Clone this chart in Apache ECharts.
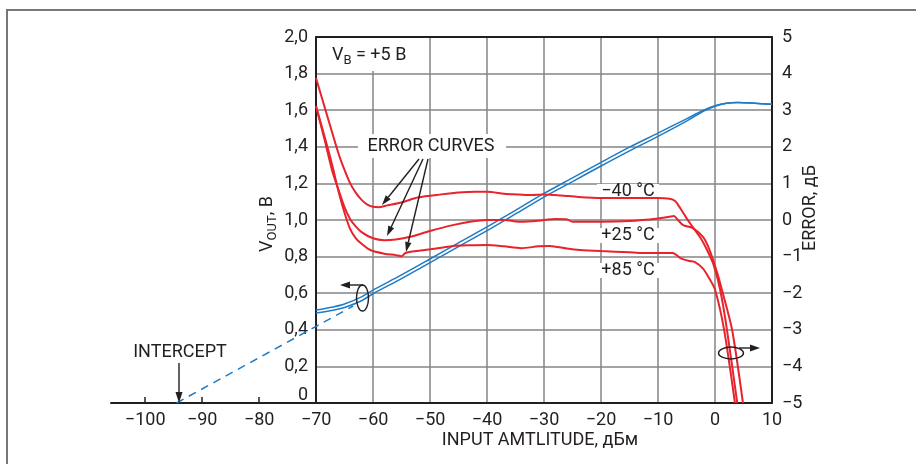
<!DOCTYPE html>
<html><head><meta charset="utf-8">
<script src="https://cdn.jsdelivr.net/npm/echarts@6/dist/echarts.min.js"></script>
<style>html,body{margin:0;padding:0;background:#fff}#c{width:916px;height:464px}</style>
</head><body><div id="c"></div>
<script>
// ---- data ----
const xTickLabels = [-100,-90,-80,-70,-60,-50,-40,-30,-20,-10,0,10];
const xOuterTicks = [-100,-90,-80];

const blueX     = [-70,-67,-65,-62,-60,-55,-50,-45,-40,-35,-30,-25,-20,-15,-10,-5,-2,0,2,4,7,10];
const vOutUpper = [0.508,0.525,0.541,0.58,0.617,0.70,0.787,0.875,0.962,1.053,1.145,1.23,1.315,1.398,1.475,1.553,1.60,1.625,1.638,1.642,1.638,1.632];
const vOutLower = [0.492,0.507,0.522,0.559,0.597,0.68,0.767,0.855,0.942,1.033,1.125,1.21,1.295,1.378,1.457,1.54,1.595,1.622,1.638,1.642,1.638,1.632];

const interceptX = [-94.5,-63.5];
const interceptV = [0,0.53];

const errM40X = [-70,-68,-66,-65,-64,-63,-62,-61,-60,-59,-57.5,-55,-52,-48,-45,-42,-40,-37,-35,-32.5,-30,-27,-24,-20,-15,-10,-8,-7,-6,-5,-4,-2.5,-1.4,-0.3,0.9,2.1,3.9];
const errM40  = [3.88,2.83,1.79,1.37,1.0,0.74,0.55,0.42,0.36,0.35,0.4,0.48,0.62,0.7,0.75,0.77,0.77,0.72,0.7,0.68,0.7,0.67,0.63,0.6,0.6,0.6,0.58,0.52,0.3,0.05,-0.17,-0.5,-0.82,-1.2,-1.9,-3.0,-5];

const errP25X = [-70,-68.5,-67.2,-66,-65,-64,-63,-62,-60,-58,-56,-53.5,-50,-46,-43,-40,-37,-34,-31,-28,-26,-25,-20,-15,-10,-8,-7.2,-6.5,-5.6,-3.9,-2.1,-1,0.4,1.2,3.0,4.9];
const errP25  = [3.11,2.2,1.37,0.8,0.35,0.02,-0.18,-0.33,-0.5,-0.55,-0.53,-0.46,-0.3,-0.14,-0.05,0,0,-0.05,-0.02,0.03,0.02,-0.05,-0.05,-0.03,0.04,0.09,0.11,0.0,-0.14,-0.22,-0.46,-0.8,-1.45,-1.9,-3.0,-5];

const errP85X = [-70,-68,-67,-66,-65,-64,-63,-62,-60.5,-58,-56,-55,-54.3,-52,-48,-46,-43,-40,-37,-34,-31,-29,-26,-23.7,-20,-15,-13,-10,-7.4,-6.1,-4.5,-3.5,-2.1,-1,0,1.6,3.5];
const errP85  = [3.11,2.0,1.4,0.75,0.2,-0.25,-0.5,-0.65,-0.82,-0.92,-0.96,-0.99,-0.9,-0.84,-0.76,-0.71,-0.69,-0.68,-0.72,-0.77,-0.72,-0.71,-0.78,-0.82,-0.85,-0.88,-0.9,-0.9,-0.9,-1.04,-1.12,-1.15,-1.33,-1.6,-1.9,-3.0,-5];

// ---- styles ----
const FONT = 'Roboto, "Liberation Sans", sans-serif';
const FS = 18;
const INK = '#231f20';
const GRID = '#858585';
const RED = '#e8232b';
const BLUE = '#1f7bc4';
const MINUS = '\u2212';
const fmtSigned = v => v < 0 ? MINUS + (-v) : String(v);

const chart = echarts.init(document.getElementById('c'), null, {renderer:'canvas'});
const zip = (xs, ys) => xs.map((x,i)=>[x, ys[i]]);

function arrow(x1,y1,x2,y2,head,w){
  head = head||10; w = w||3.2;
  const a = Math.atan2(y2-y1,x2-x1);
  const bx = x2-head*Math.cos(a), by = y2-head*Math.sin(a);
  const nx = -Math.sin(a)*w, ny = Math.cos(a)*w;
  return [
    {type:'line', z:20, shape:{x1:x1,y1:y1,x2:bx,y2:by}, style:{stroke:INK,lineWidth:1.4}},
    {type:'polygon', z:20, shape:{points:[[x2,y2],[bx+nx,by+ny],[bx-nx,by-ny]]}, style:{fill:INK}}
  ];
}
function label(x,y,text,opt){
  opt = opt||{};
  return {type:'text', z:opt.z||21, x:x, y:y, rotation:opt.rotation||0,
    style:Object.assign({text:text, fontSize:FS, fontFamily:FONT, fill:INK,
      align:opt.align||'center', verticalAlign:'middle', textAlign:opt.align||'center', textVerticalAlign:'middle'}, opt.style||{})};
}
function whiteBox(x,y,w,h){
  return {type:'rect', z:1, shape:{x:x,y:y,width:w,height:h}, style:{fill:'#fff'}};
}
const subRich = {m:{fontSize:FS,fontFamily:FONT,fill:INK,lineHeight:25},s:{fontSize:13,fontFamily:FONT,fill:INK,verticalAlign:'bottom',lineHeight:13}};

const graphics = [
  {type:'polyline', z:0, shape:{points:[[7,470],[7,10],[920,10]]}, style:{stroke:'#777',lineWidth:2,fill:null}},
  // V_B box
  whiteBox(318,38,106,33),
  label(332,55,'{m|V}{s|B}{m| = +5 B}',{align:'left',style:{rich:subRich}}),
  // ERROR CURVES
  whiteBox(358,134,148,24),
  label(431,146,'ERROR CURVES'),
  ...arrow(419,159,382,205),
  ...arrow(423,159,387,236),
  ...arrow(428,159,406,252),
  // temperature labels
  whiteBox(597,184,62,14),
  label(628,191,MINUS+'40 \u00B0C'),
  whiteBox(597,228,62,15),
  label(628,235,'+25 \u00B0C'),
  whiteBox(597,263,62,15),
  label(628,270,'+85 \u00B0C'),
  // ellipses with arrows
  {type:'ellipse', z:22, shape:{cx:362.5,cy:298,rx:6,ry:13}, style:{stroke:INK,lineWidth:1.4,fill:null}},
  ...arrow(363,285,340,285,10,3.5),
  {type:'ellipse', z:22, shape:{cx:731,cy:353,rx:12.5,ry:6}, style:{stroke:INK,lineWidth:1.4,fill:null}},
  ...arrow(739,348,760,348,10,3.5),
  // intercept
  label(180,352,'INTERCEPT'),
  ...arrow(179,363,179,403,11,3.5),
  // axis names
  label(267,224,'{m|V}{s|OUT}{m|, B}',{rotation:Math.PI/2,style:{rich:subRich}}),
  label(810,208,'ERROR, \u0434\u0411',{rotation:Math.PI/2}),
  label(540,440,'INPUT AMTLITUDE, \u0434\u0411\u043C')
];

const option = {
  animation:false,
  backgroundColor:'#fff',
  grid:[
    {left:111, top:37, width:661, height:366},
    {left:316, top:37, width:456, height:366}
  ],
  xAxis:[
    {gridIndex:0, type:'value', min:-106, max:10,
      axisLine:{show:true, onZero:false, lineStyle:{color:INK,width:2}},
      axisTick:{show:true, inside:true, length:6, customValues:xOuterTicks, lineStyle:{color:INK,width:1.5}},
      axisLabel:{show:true, customValues:xTickLabels, formatter:fmtSigned, margin:8, fontSize:FS, fontFamily:FONT, color:INK},
      splitLine:{show:false}},
    {gridIndex:1, type:'value', min:-70, max:10, interval:10,
      axisLine:{show:false}, axisTick:{show:false}, axisLabel:{show:false},
      splitLine:{show:true, lineStyle:{color:GRID,width:1.5}}},
    {gridIndex:1, type:'value', position:'top', min:-70, max:10, interval:10,
      axisLine:{show:true, onZero:false, lineStyle:{color:INK,width:2}}, axisTick:{show:false}, axisLabel:{show:false},
      splitLine:{show:false}}
  ],
  yAxis:[
    {gridIndex:0, type:'value', min:0, max:2, show:false},
    {gridIndex:1, type:'value', position:'left', min:0, max:2, interval:0.2,
      axisLine:{show:true, onZero:false, lineStyle:{color:INK,width:2}}, axisTick:{show:false},
      axisLabel:{margin:8, fontSize:FS, fontFamily:FONT, color:INK,
        formatter: v => Math.abs(v) < 1e-9 ? '{z|0}' : v.toFixed(1).replace('.',','),
        rich:{z:{fontSize:FS, fontFamily:FONT, color:INK, padding:[0,0,16,0]}}},
      splitLine:{show:true, lineStyle:{color:GRID,width:1.5}}},
    {gridIndex:1, type:'value', position:'right', min:-5, max:5, interval:1,
      axisLine:{show:true, onZero:false, lineStyle:{color:INK,width:2}}, axisTick:{show:false},
      axisLabel:{margin:10, fontSize:FS, fontFamily:FONT, color:INK, formatter:fmtSigned},
      splitLine:{show:false}}
  ],
  series:[
    {type:'line', xAxisIndex:0, yAxisIndex:0, data:zip(interceptX,interceptV), symbol:'none',
      lineStyle:{color:BLUE,width:1.5,type:[8,6]}},
    {type:'line', xAxisIndex:1, yAxisIndex:1, data:zip(blueX,vOutUpper), symbol:'none', smooth:0.3,
      lineStyle:{color:BLUE,width:1.5}},
    {type:'line', xAxisIndex:1, yAxisIndex:1, data:zip(blueX,vOutLower), symbol:'none', smooth:0.3,
      lineStyle:{color:BLUE,width:1.5}},
    {type:'line', xAxisIndex:1, yAxisIndex:2, data:zip(errM40X,errM40), symbol:'none', smooth:0.25,
      lineStyle:{color:RED,width:2}},
    {type:'line', xAxisIndex:1, yAxisIndex:2, data:zip(errP25X,errP25), symbol:'none', smooth:0.25,
      lineStyle:{color:RED,width:2}},
    {type:'line', xAxisIndex:1, yAxisIndex:2, data:zip(errP85X,errP85), symbol:'none', smooth:0.25,
      lineStyle:{color:RED,width:2}}
  ],
  graphic:graphics
};
chart.setOption(option);
</script>
</body></html>
